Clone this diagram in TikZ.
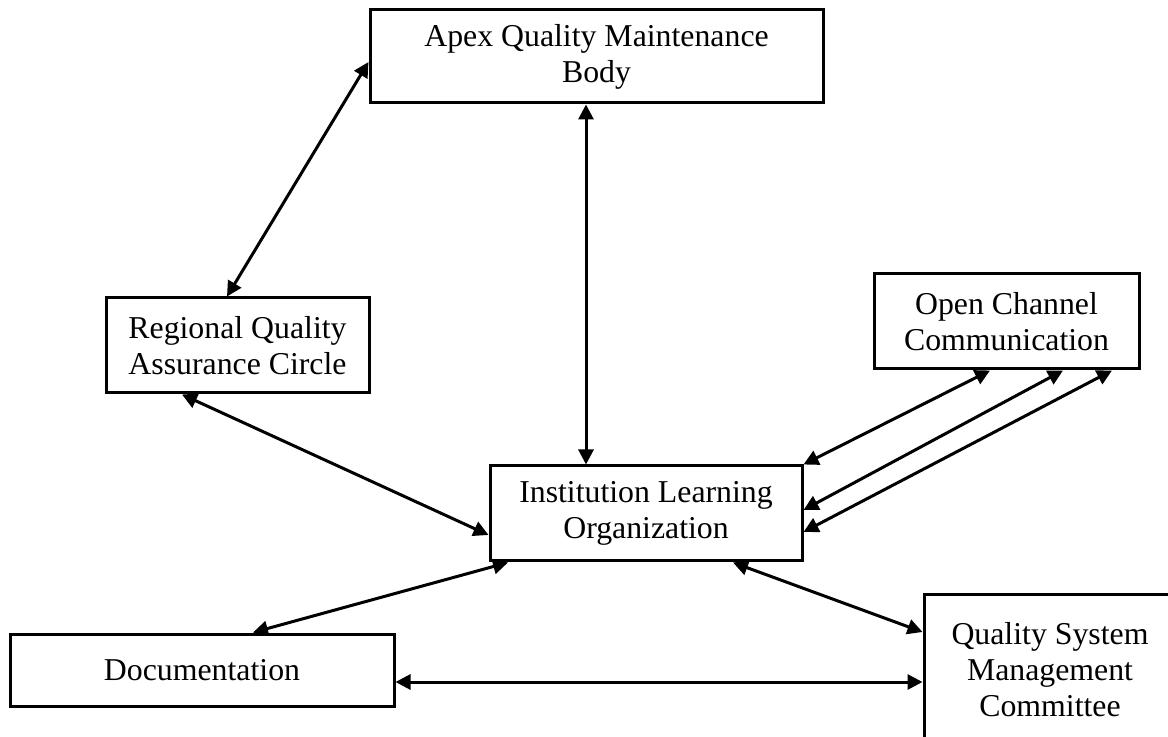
\documentclass[tikz,border=0pt]{standalone}
\usepackage{fontspec}
\setmainfont{Liberation Serif}
\usetikzlibrary{arrows.meta}
\begin{document}
\begin{tikzpicture}[x=0.5pt,y=-0.5pt,
  box/.style={draw, line width=1.5pt, align=center, inner sep=0pt,
    font=\fontsize{15.9pt}{18pt}\selectfont},
  link/.style={line width=1.5pt,
    {Triangle[length=7.5pt,width=7.5pt]}-{Triangle[length=7.5pt,width=7.5pt]}}]
\useasboundingbox (0,0) rectangle (1168,737);
\clip (0,0) rectangle (1168,737);

% boxes
\node[box, minimum width=226.5pt, minimum height=46.5pt] (apex) at (596.5,56.5)
  {Apex Quality Maintenance\\Body};
\node[box, minimum width=131.5pt, minimum height=47.5pt] (regional) at (237.5,345.5)
  {Regional Quality\\Assurance Circle};
\node[box, minimum width=132.5pt, minimum height=47.5pt] (open) at (1006.5,321.5)
  {Open Channel\\Communication};
\node[box, minimum width=156pt, minimum height=47.5pt] (inst) at (646,513.5)
  {Institution Learning\\Organization};
\node[box, minimum width=192pt, minimum height=36pt] (doc) at (202,670)
  {Documentation};
\node[box, minimum width=126pt, minimum height=75pt] (qual) at (1050,670)
  {Quality System\\Management\\Committee};

% connectors
\draw[link] ([yshift=-2.75pt]apex.west) -- ([xshift=-5.25pt]regional.north);
\draw[link] ([xshift=-30pt]inst.north |- apex.south) -- ([xshift=-30pt]inst.north);
\draw[link] ([xshift=-27.75pt]regional.south) -- ([yshift=-10.75pt]inst.west);
\draw[link] ([xshift=-8.25pt]open.south) -- (inst.north east);
\draw[link] ([xshift=28.25pt]open.south) -- ([yshift=1.75pt]inst.east);
\draw[link] ([xshift=52.75pt]open.south) -- ([yshift=-9.25pt]inst.east);
\draw[link] ([xshift=-69pt]inst.south) -- ([xshift=25.5pt]doc.north);
\draw[link] ([xshift=43.5pt]inst.south) -- ([yshift=19pt]qual.west);
\draw[link] ([yshift=-6pt]doc.east) -- ([yshift=-6pt]doc.east -| qual.west);
\end{tikzpicture}
\end{document}
